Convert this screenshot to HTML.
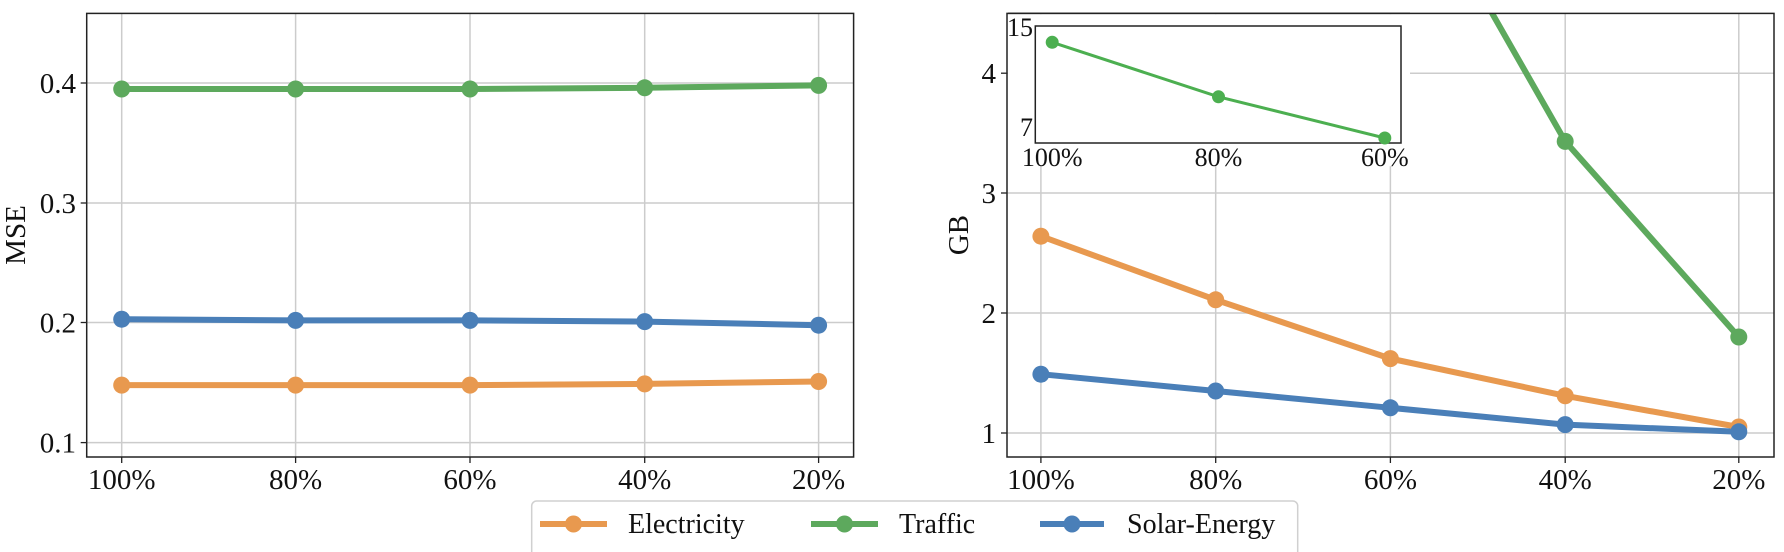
<!DOCTYPE html>
<html><head><meta charset="utf-8"><style>
html,body{margin:0;padding:0;background:#fff;}
svg{display:block;font-family:"Liberation Serif","DejaVu Serif",serif;}
</style></head><body>
<svg width="1784" height="552" viewBox="0 0 1784 552" xmlns="http://www.w3.org/2000/svg">
<defs>
<clipPath id="cr"><rect x="1007" y="13.4" width="767" height="444"/></clipPath>
</defs>
<!-- LEFT PANEL -->
<g stroke="#cccccc" stroke-width="1.5">
<line x1="121.7" y1="13.4" x2="121.7" y2="457"/>
<line x1="295.6" y1="13.4" x2="295.6" y2="457"/>
<line x1="470" y1="13.4" x2="470" y2="457"/>
<line x1="644.7" y1="13.4" x2="644.7" y2="457"/>
<line x1="818.6" y1="13.4" x2="818.6" y2="457"/>
<line x1="86.7" y1="83" x2="853.6" y2="83"/>
<line x1="86.7" y1="203" x2="853.6" y2="203"/>
<line x1="86.7" y1="322.5" x2="853.6" y2="322.5"/>
<line x1="86.7" y1="442.6" x2="853.6" y2="442.6"/>
</g>
<g stroke-width="6" fill="none" stroke-linejoin="round">
<polyline stroke="#5da95d" points="121.7,89 295.6,89 470,89 644.7,87.8 818.6,85.4"/>
<polyline stroke="#4a7fb8" points="121.7,319.2 295.6,320.4 470,320.4 644.7,321.6 818.6,325.2"/>
<polyline stroke="#e8994f" points="121.7,385.1 295.6,385.1 470,385.1 644.7,383.9 818.6,381.5"/>
</g>
<g fill="#5da95d"><circle cx="121.7" cy="89" r="8.5"/><circle cx="295.6" cy="89" r="8.5"/><circle cx="470" cy="89" r="8.5"/><circle cx="644.7" cy="87.8" r="8.5"/><circle cx="818.6" cy="85.4" r="8.5"/></g>
<g fill="#4a7fb8"><circle cx="121.7" cy="319.2" r="8.5"/><circle cx="295.6" cy="320.4" r="8.5"/><circle cx="470" cy="320.4" r="8.5"/><circle cx="644.7" cy="321.6" r="8.5"/><circle cx="818.6" cy="325.2" r="8.5"/></g>
<g fill="#e8994f"><circle cx="121.7" cy="385.1" r="8.5"/><circle cx="295.6" cy="385.1" r="8.5"/><circle cx="470" cy="385.1" r="8.5"/><circle cx="644.7" cy="383.9" r="8.5"/><circle cx="818.6" cy="381.5" r="8.5"/></g>
<rect x="86.7" y="13.4" width="766.9" height="443.6" fill="none" stroke="#222" stroke-width="1.5"/>
<g stroke="#222" stroke-width="1.3">
<line x1="80.7" y1="83" x2="86.7" y2="83"/><line x1="80.7" y1="203" x2="86.7" y2="203"/><line x1="80.7" y1="322.5" x2="86.7" y2="322.5"/><line x1="80.7" y1="442.6" x2="86.7" y2="442.6"/>
<line x1="121.7" y1="457" x2="121.7" y2="463"/><line x1="295.6" y1="457" x2="295.6" y2="463"/><line x1="470" y1="457" x2="470" y2="463"/><line x1="644.7" y1="457" x2="644.7" y2="463"/><line x1="818.6" y1="457" x2="818.6" y2="463"/>
</g>
<g font-size="29" fill="#111" text-anchor="end">
<text x="76" y="93">0.4</text><text x="76" y="213">0.3</text><text x="76" y="332.5">0.2</text><text x="76" y="452.6">0.1</text>
</g>
<g font-size="29" fill="#111" text-anchor="middle">
<text x="121.7" y="489">100%</text><text x="295.6" y="489">80%</text><text x="470" y="489">60%</text><text x="644.7" y="489">40%</text><text x="818.6" y="489">20%</text>
</g>
<text transform="translate(25,235) rotate(-90)" font-size="29" text-anchor="middle" fill="#111">MSE</text>

<!-- RIGHT PANEL -->
<g stroke="#cccccc" stroke-width="1.5">
<line x1="1040.9" y1="13.4" x2="1040.9" y2="457"/>
<line x1="1215.7" y1="13.4" x2="1215.7" y2="457"/>
<line x1="1390.4" y1="13.4" x2="1390.4" y2="457"/>
<line x1="1565.2" y1="13.4" x2="1565.2" y2="457"/>
<line x1="1738.8" y1="13.4" x2="1738.8" y2="457"/>
<line x1="1007" y1="73.2" x2="1774" y2="73.2"/>
<line x1="1007" y1="193" x2="1774" y2="193"/>
<line x1="1007" y1="313" x2="1774" y2="313"/>
<line x1="1007" y1="433" x2="1774" y2="433"/>
</g>
<g clip-path="url(#cr)" stroke-width="6" fill="none" stroke-linejoin="round">
<polyline stroke="#5da95d" points="1390.4,-165 1565.2,141.4 1738.8,337"/>
<polyline stroke="#e8994f" points="1040.9,236.2 1215.7,299.8 1390.4,358.6 1565.2,395.8 1738.8,427"/>
<polyline stroke="#4a7fb8" points="1040.9,374.2 1215.7,391 1390.4,407.8 1565.2,424.6 1738.8,431.8"/>
</g>
<g fill="#5da95d"><circle cx="1565.2" cy="141.4" r="8.5"/><circle cx="1738.8" cy="337" r="8.5"/></g>
<g fill="#e8994f"><circle cx="1040.9" cy="236.2" r="8.5"/><circle cx="1215.7" cy="299.8" r="8.5"/><circle cx="1390.4" cy="358.6" r="8.5"/><circle cx="1565.2" cy="395.8" r="8.5"/><circle cx="1738.8" cy="427" r="8.5"/></g>
<g fill="#4a7fb8"><circle cx="1040.9" cy="374.2" r="8.5"/><circle cx="1215.7" cy="391" r="8.5"/><circle cx="1390.4" cy="407.8" r="8.5"/><circle cx="1565.2" cy="424.6" r="8.5"/><circle cx="1738.8" cy="431.8" r="8.5"/></g>
<rect x="1007" y="13.4" width="767" height="443.6" fill="none" stroke="#222" stroke-width="1.5"/>
<g stroke="#222" stroke-width="1.3">
<line x1="1001" y1="73.2" x2="1007" y2="73.2"/><line x1="1001" y1="193" x2="1007" y2="193"/><line x1="1001" y1="313" x2="1007" y2="313"/><line x1="1001" y1="433" x2="1007" y2="433"/>
<line x1="1040.9" y1="457" x2="1040.9" y2="463"/><line x1="1215.7" y1="457" x2="1215.7" y2="463"/><line x1="1390.4" y1="457" x2="1390.4" y2="463"/><line x1="1565.2" y1="457" x2="1565.2" y2="463"/><line x1="1738.8" y1="457" x2="1738.8" y2="463"/>
</g>
<g font-size="29" fill="#111" text-anchor="end">
<text x="996" y="83">4</text><text x="996" y="203">3</text><text x="996" y="323">2</text><text x="996" y="443">1</text>
</g>
<g font-size="29" fill="#111" text-anchor="middle">
<text x="1040.9" y="489">100%</text><text x="1215.7" y="489">80%</text><text x="1390.4" y="489">60%</text><text x="1565.2" y="489">40%</text><text x="1738.8" y="489">20%</text>
</g>
<text transform="translate(968,235) rotate(-90)" font-size="29" text-anchor="middle" fill="#111">GB</text>

<!-- INSET -->
<rect x="1008" y="14.2" width="402" height="152" fill="#fff"/>
<line x1="1008" y1="13.4" x2="1410" y2="13.4" stroke="#222" stroke-width="1.5"/>
<rect x="1035.3" y="26" width="365.7" height="117" fill="#fff" stroke="#222" stroke-width="1.5"/>
<polyline fill="none" stroke="#4caf50" stroke-width="3" points="1052.2,42.3 1218.5,96.8 1384.8,138"/>
<g fill="#4caf50"><circle cx="1052.2" cy="42.3" r="6.5"/><circle cx="1218.5" cy="96.8" r="6.5"/><circle cx="1384.8" cy="138" r="6.5"/></g>
<g font-size="26" fill="#111" text-anchor="end">
<text x="1033" y="36">15</text><text x="1033" y="136">7</text>
</g>
<g font-size="26" fill="#111" text-anchor="middle">
<text x="1052.2" y="166">100%</text><text x="1218.5" y="166">80%</text><text x="1384.8" y="166">60%</text>
</g>

<!-- LEGEND -->
<rect x="531.7" y="501" width="766" height="56" rx="5" fill="#fff" stroke="#d0d0d0" stroke-width="1.5"/>
<g stroke-width="6">
<line x1="540" y1="524" x2="607" y2="524" stroke="#e8994f"/>
<line x1="811" y1="524" x2="878" y2="524" stroke="#5da95d"/>
<line x1="1040" y1="524" x2="1104" y2="524" stroke="#4a7fb8"/>
</g>
<circle cx="573.5" cy="524" r="8.5" fill="#e8994f"/>
<circle cx="844.5" cy="524" r="8.5" fill="#5da95d"/>
<circle cx="1072" cy="524" r="8.5" fill="#4a7fb8"/>
<g font-size="28" fill="#111">
<text x="628" y="533">Electricity</text>
<text x="899" y="533">Traffic</text>
<text x="1127" y="533">Solar-Energy</text>
</g>
</svg>
</body></html>
